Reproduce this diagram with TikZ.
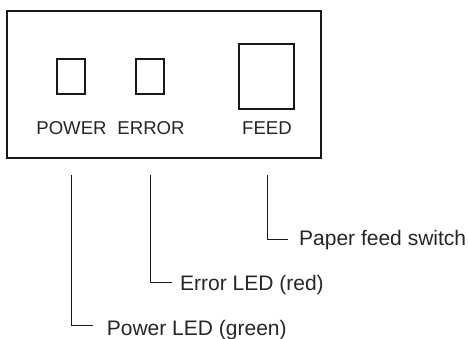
\documentclass[tikz,border=0pt]{standalone}
\usepackage{fontspec}
\setmainfont{Liberation Sans}
\begin{document}
\begin{tikzpicture}[x=1pt,y=-1pt,
  panel/.style={draw=black!90,line width=1.6pt},
  lamp/.style={draw=black!90,line width=1.6pt},
  plabel/.style={text=black!85,font=\fontsize{18.6}{20}\selectfont,inner sep=0pt,anchor=base},
  callout/.style={text=black!85,font=\fontsize{21}{24}\selectfont,inner sep=0pt,anchor=base west},
  leader/.style={draw=black!90,line width=0.9pt}]
\useasboundingbox (0,0) rectangle (468,338);
\fill[white] (0,0) rectangle (468,338);
% panel
\draw[panel] (7,11) rectangle (321,158);
\node[lamp,minimum width=28pt,minimum height=35pt,inner sep=0pt] (pled) at (71,76.5) {};
\node[lamp,minimum width=28pt,minimum height=35pt,inner sep=0pt] (eled) at (150,76.5) {};
\node[lamp,minimum width=55pt,minimum height=65pt,inner sep=0pt] (fsw) at (266.5,76.5) {};
\node[plabel] (plbl) at (71.5,134.5) {POWER};
\node[plabel] (elbl) at (151,134.5) {ERROR};
\node[plabel] (flbl) at (267,134.5) {FEED};
% callouts
\node[callout] (ptxt) at (106.7,335) {Power LED (green)};
\node[callout] (etxt) at (180,290) {Error LED (red)};
\node[callout] (ftxt) at (299,245) {Paper feed switch};
\coordinate (ptop) at (71.7,175);
\coordinate (etop) at (150,175);
\coordinate (ftop) at (267,175);
\coordinate (pend) at (92.7,325);
\coordinate (eend) at (171.7,282);
\coordinate (fend) at (288,239.5);
\draw[leader] (ptop) |- (pend);
\draw[leader] (etop) |- (eend);
\draw[leader] (ftop) |- (fend);
\end{tikzpicture}
\end{document}
